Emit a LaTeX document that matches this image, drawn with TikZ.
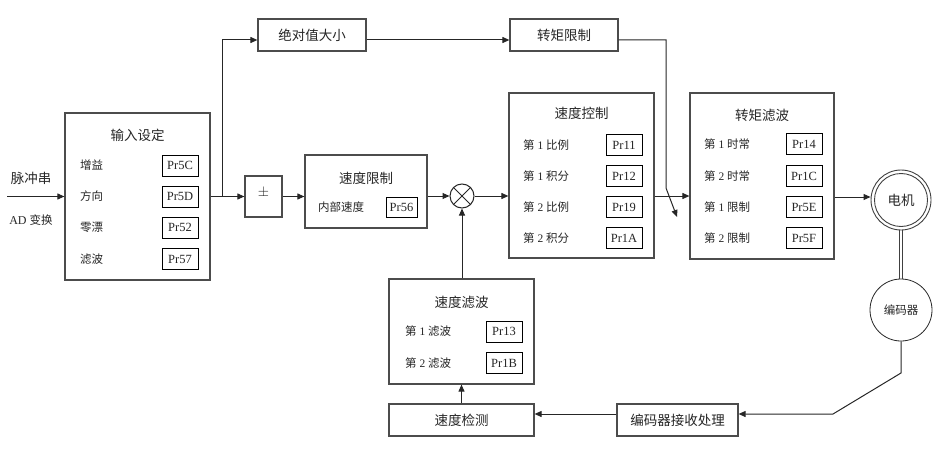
\documentclass[tikz,border=0pt]{standalone}
\usepackage{fontspec}
\setmainfont{Liberation Serif}
\newfontfamily\cjk{Noto Sans CJK SC}
\usetikzlibrary{arrows.meta,calc}
\newcommand\rowlab[2]{{\cjk 第} #1 {\cjk #2}}
\begin{document}
\begin{tikzpicture}[x=1pt,y=-1pt,
  box/.style={draw=black!70, line width=1.2pt, inner sep=0pt, fill=white},
  parbox/.style={draw=black, line width=0.8pt, minimum width=36pt, minimum height=21pt, inner sep=0pt, font=\fontsize{12.5}{13}\selectfont, text=black!85},
  ttl/.style={font=\cjk\fontsize{13.5}{14}\selectfont, text=black!85, inner sep=0pt},
  lbl/.style={anchor=west, font=\fontsize{11.5}{12}\selectfont, inner sep=0pt, text=black!85},
  arr/.style={-{Triangle[length=7pt,width=6pt]}, line width=1pt, draw=black!85},
  ln/.style={line width=1pt, draw=black!85},
  dbl/.style={line width=0.9pt, draw=black!75},
]
\useasboundingbox (0,0) rectangle (939,468);

% ---------- input settings ----------
\node[box, minimum width=145pt, minimum height=167pt] (in) at (137.5,196.5) {};
\node[ttl] (inT) at (137.5,135) {输入设定};
\node[lbl] (inL1) at (80,165.5) {\cjk 增益};
\node[lbl] (inL2) at (80,196.5) {\cjk 方向};
\node[lbl] (inL3) at (80,227.5) {\cjk 零漂};
\node[lbl] (inL4) at (80,259) {\cjk 滤波};
\node[parbox] (inP1) at (180,165.5) {Pr5C};
\node[parbox] (inP2) at (180,196.5) {Pr5D};
\node[parbox] (inP3) at (180,227.5) {Pr52};
\node[parbox] (inP4) at (180,259) {Pr57};

\coordinate (src) at (7,196.5);
\node[font=\cjk\fontsize{13.5}{14}\selectfont, text=black!85] (pulse) at (31,178) {脉冲串};
\node[font=\fontsize{12}{13}\selectfont, text=black!85] (adc) at (31,220) {AD {\cjk\fontsize{11.5}{12}\selectfont 变换}};

% ---------- +- box ----------
\node[box, minimum width=37pt, minimum height=41pt] (pm) at (263.5,196.5) {};
\node[font=\fontsize{14}{14}\selectfont, text=black!85] (pmT) at (263.5,193) {$\pm$};

% ---------- speed limit ----------
\node[box, minimum width=122pt, minimum height=73pt] (lim) at (366,191.5) {};
\node[ttl] (limT) at (366,178) {速度限制};
\node[lbl] (limL) at (318,207) {\cjk 内部速度};
\node[parbox, minimum width=31pt, minimum height=20pt] (limP) at (401.5,207) {Pr56};

% ---------- summing junction ----------
\node[circle, draw=black!85, line width=1pt, minimum size=24pt, inner sep=0pt] (ot) at (462,196) {};
\draw[ln] (ot.north east) -- (ot.south west);
\draw[ln] (ot.north west) -- (ot.south east);

% ---------- speed control ----------
\node[box, minimum width=145pt, minimum height=165pt] (sc) at (581.5,175.5) {};
\node[ttl] (scT) at (581.5,113) {速度控制};
\node[lbl] (scL1) at (523,145) {\rowlab{1}{比例}};
\node[lbl] (scL2) at (523,176) {\rowlab{1}{积分}};
\node[lbl] (scL3) at (523,207) {\rowlab{2}{比例}};
\node[lbl] (scL4) at (523,238) {\rowlab{2}{积分}};
\node[parbox] (scP1) at (624,145) {Pr11};
\node[parbox] (scP2) at (624,176) {Pr12};
\node[parbox] (scP3) at (624,207) {Pr19};
\node[parbox] (scP4) at (624,238) {Pr1A};

% ---------- torque filter ----------
\node[box, minimum width=144pt, minimum height=166pt] (tf) at (762,176) {};
\node[ttl] (tfT) at (762,115) {转矩滤波};
\node[lbl] (tfL1) at (704,144) {\rowlab{1}{时常}};
\node[lbl] (tfL2) at (704,176) {\rowlab{2}{时常}};
\node[lbl] (tfL3) at (704,207) {\rowlab{1}{限制}};
\node[lbl] (tfL4) at (704,238) {\rowlab{2}{限制}};
\node[parbox] (tfP1) at (804,144) {Pr14};
\node[parbox] (tfP2) at (804,176) {Pr1C};
\node[parbox] (tfP3) at (804,207) {Pr5E};
\node[parbox] (tfP4) at (804,238) {Pr5F};

% ---------- top row ----------
\node[box, minimum width=108pt, minimum height=32pt, font=\cjk\fontsize{13.5}{14}\selectfont, text=black!85] (abs) at (312,35) {绝对值大小};
\node[box, minimum width=108pt, minimum height=32pt, font=\cjk\fontsize{13.5}{14}\selectfont, text=black!85] (tl) at (564,35) {转矩限制};

% ---------- motor and encoder ----------
\node[circle, draw=black!75, line width=0.9pt, minimum size=60pt, inner sep=0pt, font=\cjk\fontsize{13.5}{14}\selectfont, text=black!85] (mot) at (901,200) {电机};
\draw[dbl] (mot.center) circle (26.5pt);
\node[circle, draw=black!85, line width=0.8pt, minimum size=62pt, inner sep=0pt, font=\cjk\fontsize{11.5}{12}\selectfont, text=black!85] (enc) at (901,310) {编码器};

% ---------- speed filter / detect / receiver ----------
\node[box, minimum width=145pt, minimum height=105pt] (sf) at (461.5,331.5) {};
\node[ttl] (sfT) at (461.5,302) {速度滤波};
\node[lbl] (sfL1) at (405,331.5) {\rowlab{1}{滤波}};
\node[lbl] (sfL2) at (405,363) {\rowlab{2}{滤波}};
\node[parbox] (sfP1) at (504,331.5) {Pr13};
\node[parbox] (sfP2) at (504,363) {Pr1B};
\node[box, minimum width=145pt, minimum height=32pt, font=\cjk\fontsize{13.5}{14}\selectfont, text=black!85] (sd) at (461.5,420) {速度检测};
\node[box, minimum width=121pt, minimum height=32pt, font=\cjk\fontsize{13.5}{14}\selectfont, text=black!85] (recv) at (677.5,420) {编码器接收处理};

% ---------- connectors ----------
\draw[arr] (src) -- (in.west);
\draw[arr] (in.east) -- (pm.west);
\coordinate (br) at (222,196.5);
\draw[arr] (br) |- ([yshift=-5pt]abs.west);
\draw[arr] ([yshift=-5pt]abs.east) -- ([yshift=-5pt]tl.west);
\coordinate (t1) at (666,40);
\coordinate (t2) at (666,188);
\coordinate (t3) at (677,217);
\draw[arr] ([yshift=-5pt]tl.east) -- (t1) -- (t2) -- (t3);
\draw[arr] (pm.east) -- (lim.west |- pm.east);
\draw[arr] (lim.east |- ot.west) -- (ot.west);
\draw[arr] (ot.east) -- (sc.west |- ot.east);
\draw[arr] (sc.east |- ot.east) -- (tf.west |- ot.east);
\draw[arr] ([yshift=3pt]tf.east |- mot.west) -- ([yshift=3pt]mot.west);
\draw[arr] (sf.north -| ot.south) -- (ot.south);
\draw[arr] (sd.north) -- (sf.south);
\draw[dbl] ([xshift=-1.6pt]mot.south) -- ([xshift=-1.6pt]enc.north);
\draw[dbl] ([xshift=1.6pt]mot.south) -- ([xshift=1.6pt]enc.north);
\coordinate (k1) at (901,373);
\coordinate (k2) at (833,414);
\draw[arr] (enc.south) -- (k1) -- (k2) -- (recv.east |- k2);
\draw[arr] (recv.west |- k2) -- (sd.east |- k2);
\end{tikzpicture}
\end{document}
